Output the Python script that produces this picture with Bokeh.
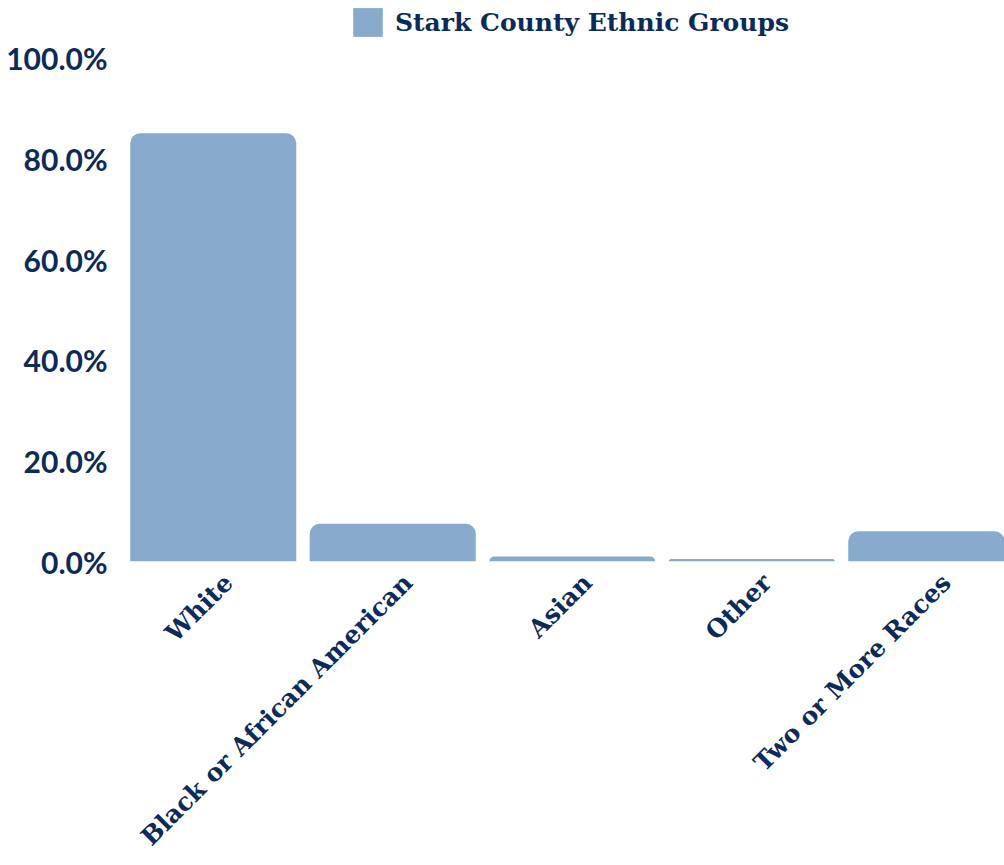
import math
from bokeh.plotting import figure
from bokeh.models import (Range1d, FixedTicker, PrintfTickFormatter, ColumnDataSource,
                          Legend, LegendItem)
from bokeh.embed import file_html
from bokeh.resources import INLINE

# ---- data ----
categories = ["White", "Black or African American", "Asian", "Other", "Two or More Races"]
shares = [85.1, 7.5, 1.0, 0.5, 6.0]
y_ticks = [0, 20, 40, 60, 80, 100]
series_name = "Stark County Ethnic Groups"

BAR = "#88aacd"
TXT = "#0c2b5a"
SLAB = "DejaVu Serif"

xs = [i + 0.5 for i in range(len(categories))]
# label anchors sit slightly right of the bar centres (as in the original)
label_pos = [x + 0.085 for x in xs]
src = ColumnDataSource(dict(x=xs, top=shares, cat=categories))

p = figure(width=1004, height=865, output_backend="svg", toolbar_location=None,
           x_range=Range1d(0, 4.908), y_range=Range1d(0, 111.5),
           min_border_left=123, min_border_right=0, min_border_top=0,
           min_border_bottom=304)

r = p.vbar(x="x", top="top", bottom=0, width=0.925, source=src,
           fill_color=BAR, line_color=None, border_radius=(10, 10, 0, 0))

p.xgrid.visible = False
p.ygrid.visible = False
p.outline_line_color = None
p.background_fill_color = "white"
p.border_fill_color = "white"

# y axis
ya = p.yaxis[0]
ya.ticker = FixedTicker(ticks=y_ticks)
ya.formatter = PrintfTickFormatter(format="%.1f%%")
ya.axis_line_color = None
ya.major_tick_line_color = None
ya.minor_tick_line_color = None
ya.major_tick_out = 0
ya.major_label_standoff = 16
ya.major_label_text_font = "Lato"
ya.major_label_text_font_style = "bold"
ya.major_label_text_font_size = "30px"
ya.major_label_text_color = TXT

# x axis
xa = p.xaxis[0]
xa.ticker = FixedTicker(ticks=label_pos)
xa.major_label_overrides = {x: c for x, c in zip(label_pos, categories)}
xa.axis_line_color = None
xa.major_tick_line_color = None
xa.minor_tick_line_color = None
xa.major_tick_out = 0
xa.major_label_standoff = 17
xa.major_label_orientation = math.pi / 4
xa.major_label_text_font = SLAB
xa.major_label_text_font_style = "bold"
xa.major_label_text_font_size = "25px"
xa.major_label_text_color = TXT

legend = Legend(items=[LegendItem(label=series_name, renderers=[r])],
                location=(226, 521), orientation="horizontal",
                glyph_width=37, glyph_height=36, label_standoff=9,
                padding=0, margin=0, spacing=0,
                border_line_color=None, background_fill_alpha=0,
                label_text_font=SLAB, label_text_font_style="bold",
                label_text_font_size="25px", label_text_color=TXT,
                label_height=36)
p.add_layout(legend)

open("out.html", "w").write(file_html(p, INLINE))
